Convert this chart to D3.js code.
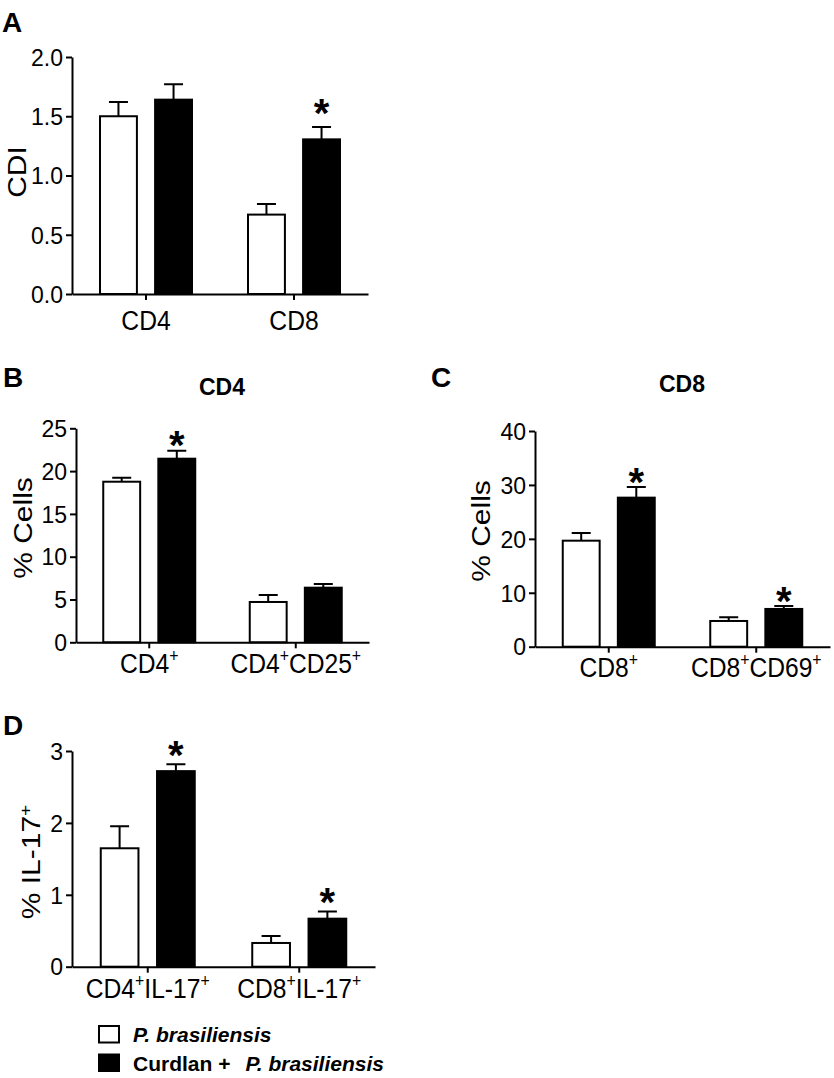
<!DOCTYPE html>
<html>
<head>
<meta charset="utf-8">
<script src="https://cdn.jsdelivr.net/npm/d3@7"></script>
<style>
  body { margin: 0; background: #fff; }
  svg { display: block; font-family: "Liberation Sans", Arial, sans-serif; }
</style>
</head>
<body>
<svg id="fig" width="834" height="1078"></svg>
<script>
// series
var seriesNames = ['P. brasiliensis', 'Curdlan + P. brasiliensis'];
var seriesFill = ['#fff', '#000'];

// panel A: CDI
var aCats = ['CD4', 'CD8'];
var aPb = [1.50, 0.67];
var aPbErr = [0.12, 0.09];
var aCurd = [1.64, 1.305];
var aCurdErr = [0.13, 0.105];
var aSig = [false, true];
var aTicks = [0, 0.5, 1.0, 1.5, 2.0];

// panel B: CD4 % cells
var bCats = ['CD4^+', 'CD4^+CD25^+'];
var bPb = [18.76, 4.71];
var bPbErr = [0.47, 0.82];
var bCurd = [21.45, 6.38];
var bCurdErr = [0.93, 0.43];
var bSig = [true, false];
var bTicks = [0, 5, 10, 15, 20, 25];

// panel C: CD8 % cells
var cCats = ['CD8^+', 'CD8^+CD69^+'];
var cPb = [19.66, 4.77];
var cPbErr = [1.44, 0.68];
var cCurd = [27.64, 7.0];
var cCurdErr = [1.96, 0.55];
var cSig = [true, true];
var cTicks = [0, 10, 20, 30, 40];

// panel D: % IL-17+
var dCats = ['CD4^+IL-17^+', 'CD8^+IL-17^+'];
var dPb = [1.647, 0.33];
var dPbErr = [0.306, 0.097];
var dCurd = [2.72, 0.668];
var dCurdErr = [0.095, 0.10];
var dSig = [true, true];
var dTicks = [0, 1, 2, 3];

var svg = d3.select('#fig');

// write "CD4^+CD25^+" as text with raised "+" signs
function richText(sel, str, supSize) {
    var parts = str.split(/(\^\+)/).filter(function (p) { return p; });
    var back = 0;
    parts.forEach(function (p) {
        if (p === '^+') {
            sel.append('tspan').attr('font-size', supSize).attr('dy', -11).text('+');
            back = 11;
        } else {
            var t = sel.append('tspan').text(p);
            if (back) t.attr('dy', back);
            back = 0;
        }
    });
}

function panel(o) {
    var g = svg.append('g');
    var y = d3.scaleLinear().domain([0, o.ticks[o.ticks.length - 1]]).range([o.bottom, o.top]);
    var x0 = d3.scaleBand().domain(o.cats).range([o.left, o.right]);
    var half = o.groupW / 2;
    var x1 = d3.scaleBand().domain([0, 1]).range([-half, half]).paddingInner(0.33);

    var rows = [];
    o.cats.forEach(function (c, i) {
        rows.push({ cat: c, s: 0, v: o.pb[i], e: o.pbErr[i], sig: false });
        rows.push({ cat: c, s: 1, v: o.curd[i], e: o.curdErr[i], sig: o.sig[i] });
    });
    var cx = function (d) { return x0(d.cat) + x0.bandwidth() / 2; };

    // error whiskers (upper only)
    g.selectAll('.err').data(rows).enter().append('path')
        .attr('d', function (d) {
            var xm = cx(d) + x1(d.s) + x1.bandwidth() / 2;
            return 'M' + xm + ',' + y(d.v) + 'V' + y(d.v + d.e) +
                'M' + (xm - 9.5) + ',' + y(d.v + d.e) + 'H' + (xm + 9.5);
        })
        .attr('stroke', '#000').attr('stroke-width', 2).attr('fill', 'none');

    g.selectAll('.bar').data(rows).enter().append('rect')
        .attr('x', function (d) { return cx(d) + x1(d.s); })
        .attr('width', x1.bandwidth())
        .attr('y', function (d) { return y(d.v); })
        .attr('height', function (d) { return y(0) - y(d.v); })
        .attr('fill', function (d) { return seriesFill[d.s]; })
        .attr('stroke', '#000').attr('stroke-width', 2);

    g.selectAll('.star').data(rows.filter(function (d) { return d.sig; })).enter().append('text')
        .attr('x', function (d) { return cx(d) + x1(d.s) + x1.bandwidth() / 2; })
        .attr('y', function (d) { return y(d.v + d.e) - o.starGap + 22; })
        .attr('text-anchor', 'middle').attr('font-size', 40).attr('font-weight', 'bold')
        .text('*');

    // axes
    var ya = g.append('g').attr('transform', 'translate(' + o.left + ',0)')
        .call(d3.axisLeft(y).tickValues(o.ticks).tickSize(6).tickSizeOuter(0).tickPadding(3)
            .tickFormat(o.fmt));
    ya.attr('font-size', 23).attr('font-family', null);
    ya.selectAll('text').attr('fill', '#000').attr('dy', '0.36em');
    ya.selectAll('path, line').attr('stroke', '#000').attr('stroke-width', 2);

    var xa = g.append('g').attr('transform', 'translate(0,' + o.bottom + ')')
        .call(d3.axisBottom(x0).tickSize(6).tickSizeOuter(0).tickFormat(''));
    xa.selectAll('text').remove();
    xa.selectAll('path, line').attr('stroke', '#000').attr('stroke-width', 2);

    o.cats.forEach(function (c) {
        var t = g.append('text')
            .attr('transform', 'translate(' + (x0(c) + x0.bandwidth() / 2) + ',' + o.catY + ') scale(0.88,1)')
            .attr('text-anchor', 'middle').attr('font-size', 28);
        richText(t, c, 18);
    });

    var yl = g.append('text')
        .attr('transform', 'translate(' + o.ylX + ',' + o.ylY + ') rotate(-90) scale(1,0.86)')
        .attr('text-anchor', 'middle').attr('font-size', 30);
    richText(yl, o.ylabel, 19);

    g.append('text').attr('x', o.letterX).attr('y', o.letterY)
        .attr('font-size', 28).attr('font-weight', 'bold').text(o.letter);

    if (o.title) {
        g.append('text').attr('x', o.titleX).attr('y', o.titleY)
            .attr('text-anchor', 'middle').attr('font-size', 23).attr('font-weight', 'bold')
            .text(o.title);
    }
}

panel({
    cats: aCats, pb: aPb, pbErr: aPbErr, curd: aCurd, curdErr: aCurdErr, sig: aSig,
    ticks: aTicks, fmt: d3.format('.1f'),
    left: 72, right: 368, top: 57, bottom: 294, groupW: 92, starGap: 22,
    catY: 330, ylabel: 'CDI', ylX: 26, ylY: 172,
    letter: 'A', letterX: 2, letterY: 32
});

panel({
    cats: bCats, pb: bPb, pbErr: bPbErr, curd: bCurd, curdErr: bCurdErr, sig: bSig,
    ticks: bTicks, fmt: d3.format('d'),
    left: 76, right: 369, top: 428.3, bottom: 642.3, groupW: 92, starGap: 14,
    catY: 673, ylabel: '% Cells', ylX: 32, ylY: 528,
    letter: 'B', letterX: 3, letterY: 387,
    title: 'CD4', titleX: 222, titleY: 395
});

panel({
    cats: cCats, pb: cPb, pbErr: cPbErr, curd: cCurd, curdErr: cCurdErr, sig: cSig,
    ticks: cTicks, fmt: d3.format('d'),
    left: 535, right: 830, top: 431, bottom: 646.7, groupW: 92, starGap: 13,
    catY: 677, ylabel: '% Cells', ylX: 490, ylY: 531,
    letter: 'C', letterX: 431, letterY: 387,
    title: 'CD8', titleX: 682, titleY: 392
});

panel({
    cats: dCats, pb: dPb, pbErr: dPbErr, curd: dCurd, curdErr: dCurdErr, sig: dSig,
    ticks: dTicks, fmt: d3.format('d'),
    left: 72, right: 375, top: 751, bottom: 966.7, groupW: 94, starGap: 17,
    catY: 998, ylabel: '% IL-17^+', ylX: 40, ylY: 862,
    letter: 'D', letterX: 3, letterY: 735
});

// legend
var leg = svg.append('g').attr('transform', 'translate(98,1026)');
seriesNames.forEach(function (name, i) {
    var row = leg.append('g').attr('transform', 'translate(0,' + (i * 28.5) + ')');
    row.append('rect').attr('x', 1).attr('y', 0).attr('width', 20).attr('height', 16.5)
        .attr('fill', seriesFill[i]).attr('stroke', '#000').attr('stroke-width', 2);
    var t = row.append('text').attr('x', 35).attr('y', 16)
        .attr('font-size', 21).attr('font-weight', 'bold');
    var k = name.indexOf('P. ');
    if (k > 0) {
        t.append('tspan').text(name.slice(0, k).trim());
        t.append('tspan').attr('dx', 15).attr('font-style', 'italic').text(name.slice(k));
    } else {
        t.append('tspan').attr('font-style', 'italic').text(name);
    }
});
</script>
</body>
</html>
